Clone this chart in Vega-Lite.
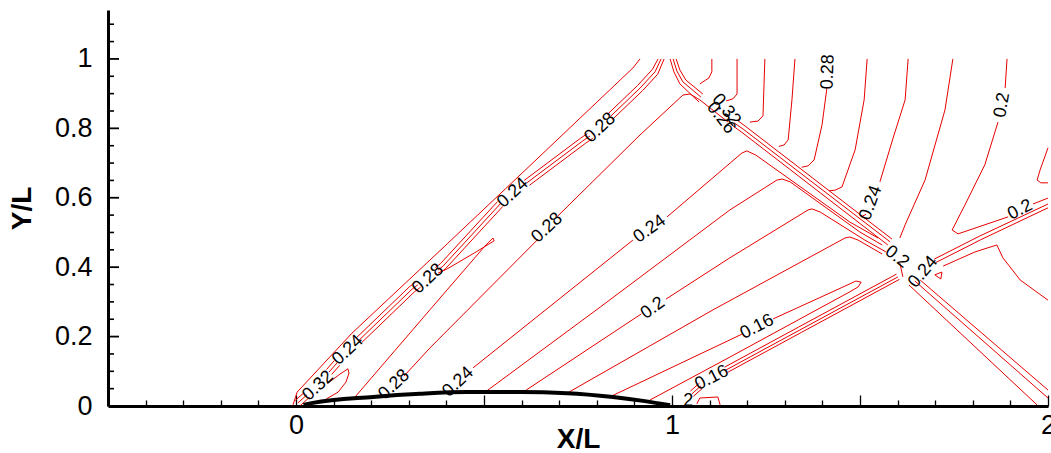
{
"$schema":"https://vega.github.io/schema/vega-lite/v6.json",
"width":940,"height":396,
"autosize":"none",
"padding":{"left":108,"top":10,"right":3,"bottom":47},
"background":"white",
"config":{"view":{"stroke":null},"font":"Liberation Sans","axis":{"grid":false,"labelFlush":false,"labelOverlap":false}},
"resolve":{"axis":{"x":"independent","y":"independent"}},
"datasets":{
"contours":[
{"id":"O","o":0,"x":-0.008,"y":0.003},{"id":"O","o":1,"x":0.003,"y":0.040},{"id":"O","o":2,"x":0.149,"y":0.210},{"id":"O","o":3,"x":0.402,"y":0.467},{"id":"O","o":4,"x":0.649,"y":0.720},{"id":"O","o":5,"x":0.862,"y":0.939},{"id":"O","o":6,"x":0.896,"y":0.974},{"id":"O","o":7,"x":0.915,"y":1.0},
{"id":"Bma","o":0,"x":-0.002,"y":0.016},{"id":"Bma","o":1,"x":0.022,"y":0.039},
{"id":"Bmb","o":0,"x":0.081,"y":0.105},{"id":"Bmb","o":1,"x":0.102,"y":0.131},
{"id":"Bmc","o":0,"x":0.161,"y":0.197},{"id":"Bmc","o":1,"x":0.302,"y":0.344},{"id":"Bmc","o":2,"x":0.317,"y":0.356},
{"id":"Bmd","o":0,"x":0.371,"y":0.399},{"id":"Bmd","o":1,"x":0.384,"y":0.410},{"id":"Bmd","o":2,"x":0.536,"y":0.589},
{"id":"Bme","o":0,"x":0.607,"y":0.650},{"id":"Bme","o":1,"x":0.756,"y":0.771},{"id":"Bme","o":2,"x":0.775,"y":0.785},
{"id":"Bmf","o":0,"x":0.828,"y":0.840},{"id":"Bmf","o":1,"x":0.908,"y":0.923},{"id":"Bmf","o":2,"x":0.948,"y":0.970},{"id":"Bmf","o":3,"x":0.963,"y":1.0},
{"id":"B0a","o":0,"x":0.005,"y":0.009},{"id":"B0a","o":1,"x":0.029,"y":0.032},
{"id":"B0b","o":0,"x":0.088,"y":0.098},{"id":"B0b","o":1,"x":0.109,"y":0.124},
{"id":"B0c","o":0,"x":0.168,"y":0.190},{"id":"B0c","o":1,"x":0.309,"y":0.337},{"id":"B0c","o":2,"x":0.324,"y":0.349},
{"id":"B0d","o":0,"x":0.378,"y":0.392},{"id":"B0d","o":1,"x":0.391,"y":0.403},{"id":"B0d","o":2,"x":0.543,"y":0.582},
{"id":"B0e","o":0,"x":0.614,"y":0.643},{"id":"B0e","o":1,"x":0.763,"y":0.764},{"id":"B0e","o":2,"x":0.782,"y":0.778},
{"id":"B0f","o":0,"x":0.835,"y":0.833},{"id":"B0f","o":1,"x":0.915,"y":0.916},{"id":"B0f","o":2,"x":0.955,"y":0.963},{"id":"B0f","o":3,"x":0.971,"y":1.0},
{"id":"Bpa","o":0,"x":0.012,"y":0.002},{"id":"Bpa","o":1,"x":0.036,"y":0.025},
{"id":"Bpb","o":0,"x":0.095,"y":0.091},{"id":"Bpb","o":1,"x":0.116,"y":0.117},
{"id":"Bpc","o":0,"x":0.175,"y":0.183},{"id":"Bpc","o":1,"x":0.316,"y":0.330},{"id":"Bpc","o":2,"x":0.331,"y":0.342},
{"id":"Bpd","o":0,"x":0.385,"y":0.385},{"id":"Bpd","o":1,"x":0.398,"y":0.396},{"id":"Bpd","o":2,"x":0.550,"y":0.575},
{"id":"Bpe","o":0,"x":0.621,"y":0.636},{"id":"Bpe","o":1,"x":0.770,"y":0.757},{"id":"Bpe","o":2,"x":0.789,"y":0.771},
{"id":"Bpf","o":0,"x":0.842,"y":0.826},{"id":"Bpf","o":1,"x":0.922,"y":0.909},{"id":"Bpf","o":2,"x":0.962,"y":0.956},{"id":"Bpf","o":3,"x":0.979,"y":1.0},
{"id":"L","o":0,"x":0.085,"y":0.066},{"id":"L","o":1,"x":0.117,"y":0.092},{"id":"L","o":2,"x":0.138,"y":0.107},{"id":"L","o":3,"x":0.141,"y":0.095},{"id":"L","o":4,"x":0.133,"y":0.069},{"id":"L","o":5,"x":0.112,"y":0.040},{"id":"L","o":6,"x":0.080,"y":0.020},
{"id":"F1","o":0,"x":0.157,"y":0.026},{"id":"F1","o":1,"x":0.356,"y":0.277},{"id":"F1","o":2,"x":0.505,"y":0.464},{"id":"F1","o":3,"x":0.524,"y":0.484},{"id":"F1","o":4,"x":0.527,"y":0.476},{"id":"F1","o":5,"x":0.479,"y":0.444},{"id":"F1","o":6,"x":0.402,"y":0.395},{"id":"F1","o":7,"x":0.378,"y":0.383},
{"id":"F2a","o":0,"x":0.287,"y":0.086},{"id":"F2a","o":1,"x":0.356,"y":0.167},{"id":"F2a","o":2,"x":0.644,"y":0.481},
{"id":"F2b","o":0,"x":0.694,"y":0.545},{"id":"F2b","o":1,"x":0.915,"y":0.781},{"id":"F2b","o":2,"x":1.029,"y":0.896},{"id":"F2b","o":3,"x":1.048,"y":0.899},{"id":"F2b","o":4,"x":1.074,"y":0.882},{"id":"F2b","o":5,"x":1.149,"y":0.818},
{"id":"F3a","o":0,"x":0.471,"y":0.110},{"id":"F3a","o":1,"x":0.896,"y":0.478},
{"id":"F3b","o":0,"x":0.987,"y":0.545},{"id":"F3b","o":1,"x":1.186,"y":0.729},{"id":"F3b","o":2,"x":1.199,"y":0.735},{"id":"F3b","o":3,"x":1.223,"y":0.723},{"id":"F3b","o":4,"x":1.473,"y":0.530},{"id":"F3b","o":5,"x":1.548,"y":0.484},
{"id":"F4","o":0,"x":0.503,"y":0.040},{"id":"F4","o":1,"x":0.809,"y":0.285},{"id":"F4","o":2,"x":1.154,"y":0.565},{"id":"F4","o":3,"x":1.279,"y":0.651},{"id":"F4","o":4,"x":1.293,"y":0.654},{"id":"F4","o":5,"x":1.314,"y":0.646},{"id":"F4","o":6,"x":1.500,"y":0.501},{"id":"F4","o":7,"x":1.559,"y":0.464},
{"id":"F5a","o":0,"x":0.604,"y":0.040},{"id":"F5a","o":1,"x":0.918,"y":0.265},
{"id":"F5b","o":0,"x":0.984,"y":0.308},{"id":"F5b","o":1,"x":1.154,"y":0.427},{"id":"F5b","o":2,"x":1.362,"y":0.565},{"id":"F5b","o":3,"x":1.372,"y":0.568},{"id":"F5b","o":4,"x":1.394,"y":0.559},{"id":"F5b","o":5,"x":1.513,"y":0.478},{"id":"F5b","o":6,"x":1.569,"y":0.444},
{"id":"F6","o":0,"x":0.721,"y":0.037},{"id":"F6","o":1,"x":0.941,"y":0.173},{"id":"F6","o":2,"x":1.109,"y":0.277},{"id":"F6","o":3,"x":1.460,"y":0.484},{"id":"F6","o":4,"x":1.473,"y":0.487},{"id":"F6","o":5,"x":1.495,"y":0.478},{"id":"F6","o":6,"x":1.559,"y":0.438},
{"id":"F7a","o":0,"x":0.840,"y":0.029},{"id":"F7a","o":1,"x":1.186,"y":0.207},
{"id":"F7b","o":0,"x":1.269,"y":0.251},{"id":"F7b","o":1,"x":1.455,"y":0.343},{"id":"F7b","o":2,"x":1.489,"y":0.360},{"id":"F7b","o":3,"x":1.503,"y":0.357},{"id":"F7b","o":4,"x":1.495,"y":0.343},{"id":"F7b","o":5,"x":1.473,"y":0.329},{"id":"F7b","o":6,"x":1.154,"y":0.141},{"id":"F7b","o":7,"x":0.941,"y":0.017},
{"id":"Tms","o":0,"x":1.049,"y":0.043},{"id":"Tms","o":1,"x":1.073,"y":0.066},
{"id":"Tm","o":0,"x":1.140,"y":0.112},{"id":"Tm","o":1,"x":1.336,"y":0.227},{"id":"Tm","o":2,"x":1.597,"y":0.380},
{"id":"T0s","o":0,"x":1.053,"y":0.035},{"id":"T0s","o":1,"x":1.077,"y":0.058},
{"id":"T0","o":0,"x":1.144,"y":0.104},{"id":"T0","o":1,"x":1.340,"y":0.219},{"id":"T0","o":2,"x":1.601,"y":0.372},
{"id":"Tps","o":0,"x":1.057,"y":0.028},{"id":"Tps","o":1,"x":1.081,"y":0.051},
{"id":"Tp","o":0,"x":1.148,"y":0.097},{"id":"Tp","o":1,"x":1.344,"y":0.212},{"id":"Tp","o":2,"x":1.605,"y":0.365},
{"id":"R1a","o":0,"x":1.011,"y":1.0},{"id":"R1a","o":1,"x":1.021,"y":0.968},{"id":"R1a","o":2,"x":1.037,"y":0.939},{"id":"R1a","o":3,"x":1.082,"y":0.899},
{"id":"R1b","o":0,"x":1.173,"y":0.824},{"id":"R1b","o":1,"x":1.194,"y":0.807},{"id":"R1b","o":2,"x":1.585,"y":0.481},
{"id":"R2a","o":0,"x":1.003,"y":1.0},{"id":"R2a","o":1,"x":1.013,"y":0.965},{"id":"R2a","o":2,"x":1.029,"y":0.934},{"id":"R2a","o":3,"x":1.077,"y":0.890},
{"id":"R2b","o":0,"x":1.165,"y":0.816},{"id":"R2b","o":1,"x":1.189,"y":0.798},{"id":"R2b","o":2,"x":1.580,"y":0.473},
{"id":"R3a","o":0,"x":0.995,"y":1.0},{"id":"R3a","o":1,"x":1.005,"y":0.963},{"id":"R3a","o":2,"x":1.021,"y":0.928},{"id":"R3a","o":3,"x":1.072,"y":0.876},
{"id":"R3b","o":0,"x":1.162,"y":0.807},{"id":"R3b","o":1,"x":1.184,"y":0.790},{"id":"R3b","o":2,"x":1.574,"y":0.464},
{"id":"CX","o":0,"x":1.606,"y":0.412},{"id":"CX","o":1,"x":1.614,"y":0.372},
{"id":"RL1","o":0,"x":1.630,"y":0.349},{"id":"RL1","o":1,"x":1.971,"y":0.003},
{"id":"RL2","o":0,"x":1.646,"y":0.360},{"id":"RL2","o":1,"x":2.0,"y":0.023},
{"id":"RL3","o":0,"x":1.660,"y":0.363},{"id":"RL3","o":1,"x":2.0,"y":0.046},
{"id":"TRa","o":0,"x":1.697,"y":0.423},{"id":"TRa","o":1,"x":1.817,"y":0.489},{"id":"TRa","o":2,"x":2.0,"y":0.582},
{"id":"TRb","o":0,"x":1.701,"y":0.413},{"id":"TRb","o":1,"x":1.821,"y":0.479},{"id":"TRb","o":2,"x":2.0,"y":0.571},
{"id":"U1","o":0,"x":1.106,"y":1.0},{"id":"U1","o":1,"x":1.106,"y":0.963},{"id":"U1","o":2,"x":1.098,"y":0.945},{"id":"U1","o":3,"x":1.074,"y":0.928},
{"id":"U2","o":0,"x":1.173,"y":1.0},{"id":"U2","o":1,"x":1.173,"y":0.899},{"id":"U2","o":2,"x":1.162,"y":0.885},{"id":"U2","o":3,"x":1.144,"y":0.879},
{"id":"U3","o":0,"x":1.247,"y":1.0},{"id":"U3","o":1,"x":1.242,"y":0.836},{"id":"U3","o":2,"x":1.229,"y":0.821},{"id":"U3","o":3,"x":1.207,"y":0.818},
{"id":"V1","o":0,"x":1.327,"y":1.0},{"id":"V1","o":1,"x":1.319,"y":0.882},{"id":"V1","o":2,"x":1.309,"y":0.767},{"id":"V1","o":3,"x":1.298,"y":0.752},{"id":"V1","o":4,"x":1.284,"y":0.748},
{"id":"V2","o":0,"x":1.412,"y":0.916},{"id":"V2","o":1,"x":1.399,"y":0.810},{"id":"V2","o":2,"x":1.378,"y":0.709},{"id":"V2","o":3,"x":1.362,"y":0.692},{"id":"V2","o":4,"x":1.345,"y":0.688},
{"id":"V3","o":0,"x":1.519,"y":1.0},{"id":"V3","o":1,"x":1.511,"y":0.882},{"id":"V3","o":2,"x":1.487,"y":0.738},{"id":"V3","o":3,"x":1.452,"y":0.631},{"id":"V3","o":4,"x":1.434,"y":0.622},{"id":"V3","o":5,"x":1.418,"y":0.620},
{"id":"V4a","o":0,"x":1.628,"y":1.0},{"id":"V4a","o":1,"x":1.620,"y":0.882},{"id":"V4a","o":2,"x":1.588,"y":0.772},{"id":"V4a","o":3,"x":1.553,"y":0.646},
{"id":"V4b","o":0,"x":1.516,"y":0.552},{"id":"V4b","o":1,"x":1.506,"y":0.547},
{"id":"V5","o":0,"x":1.747,"y":1.0},{"id":"V5","o":1,"x":1.726,"y":0.853},{"id":"V5","o":2,"x":1.673,"y":0.651},{"id":"V5","o":3,"x":1.620,"y":0.522},{"id":"V5","o":4,"x":1.606,"y":0.484},
{"id":"V6a","o":0,"x":1.891,"y":1.0},{"id":"V6a","o":1,"x":1.886,"y":0.916},
{"id":"V6b","o":0,"x":1.867,"y":0.818},{"id":"V6b","o":1,"x":1.832,"y":0.695},{"id":"V6b","o":2,"x":1.779,"y":0.579},{"id":"V6b","o":3,"x":1.745,"y":0.507},{"id":"V6b","o":4,"x":1.761,"y":0.496},{"id":"V6b","o":5,"x":1.894,"y":0.545},
{"id":"V6c","o":0,"x":1.960,"y":0.582},{"id":"V6c","o":1,"x":2.0,"y":0.599},
{"id":"V7","o":0,"x":2.0,"y":0.744},{"id":"V7","o":1,"x":1.979,"y":0.680},{"id":"V7","o":2,"x":1.971,"y":0.651},{"id":"V7","o":3,"x":1.981,"y":0.643},{"id":"V7","o":4,"x":2.0,"y":0.643},
{"id":"BT","o":0,"x":1.721,"y":0.403},{"id":"BT","o":1,"x":1.806,"y":0.444},{"id":"BT","o":2,"x":1.864,"y":0.464},{"id":"BT","o":3,"x":1.880,"y":0.427},{"id":"BT","o":4,"x":1.926,"y":0.363},{"id":"BT","o":5,"x":2.0,"y":0.305},
{"id":"TRI","o":0,"x":1.699,"y":0.378},{"id":"TRI","o":1,"x":1.718,"y":0.386},{"id":"TRI","o":2,"x":1.715,"y":0.366},{"id":"TRI","o":3,"x":1.699,"y":0.378},
{"id":"GAM","o":0,"x":1.066,"y":0.006},{"id":"GAM","o":1,"x":1.074,"y":0.023},{"id":"GAM","o":2,"x":1.122,"y":0.026},{"id":"GAM","o":3,"x":1.128,"y":0.003}
],
"bump":[
{"x":0.02,"y":0.003},{"x":0.045,"y":0.009},{"x":0.205,"y":0.026},{"x":0.330,"y":0.035},{"x":0.455,"y":0.040},{"x":0.596,"y":0.040},{"x":0.721,"y":0.037},{"x":0.843,"y":0.026},{"x":0.928,"y":0.014},{"x":0.995,"y":0.002}
],
"ymajor":[{"v":0.2},{"v":0.4},{"v":0.6},{"v":0.8},{"v":1.0}],
"yminor":[{"v":0.05},{"v":0.1},{"v":0.15},{"v":0.25},{"v":0.3},{"v":0.35},{"v":0.45},{"v":0.5},{"v":0.55},{"v":0.65},{"v":0.7},{"v":0.75},{"v":0.85},{"v":0.9},{"v":0.95},{"v":1.05},{"v":1.1}],
"lab43":[
{"t":"0.32","x":0.059,"y":0.058},{"t":"0.24","x":0.138,"y":0.161},{"t":"0.28","x":0.351,"y":0.366},{"t":"0.24","x":0.577,"y":0.614},{"t":"0.28","x":0.809,"y":0.801},{"t":"0.28","x":0.261,"y":0.061},{"t":"0.24","x":0.431,"y":0.069},{"t":"0.28","x":0.668,"y":0.513}
],
"lab36":[{"t":"0.24","x":0.941,"y":0.510},{"t":"0.2","x":0.949,"y":0.282}],
"lab27":[{"t":"0.16","x":1.226,"y":0.228},{"t":"0.16","x":1.106,"y":0.081},{"t":"0.2","x":1.926,"y":0.565}],
"lab52":[{"t":"0.32","x":1.144,"y":0.853},{"t":"0.26","x":1.130,"y":0.830}],
"lab88":[{"t":"0.28","x":1.415,"y":0.963}],
"lab80":[{"t":"0.2","x":1.878,"y":0.867}],
"lab70":[{"t":"0.24","x":1.529,"y":0.585}],
"lab38":[{"t":"0.2","x":1.598,"y":0.429}],
"lab50":[{"t":"0.24","x":1.668,"y":0.386}],
"lab0":[{"t":"2","x":1.043,"y":0.014}]
},
"layer":[
{"data":{"name":"contours"},
 "mark":{"type":"line","color":"#e80000","strokeWidth":1},
 "encoding":{
  "x":{"field":"x","type":"quantitative","scale":{"domain":[-0.5,2],"nice":false,"zero":false},
   "axis":{"orient":"bottom","values":[-0.5,-0.4,-0.3,-0.2,-0.1,0,0.1,0.2,0.3,0.4,0.5,0.6,0.7,0.8,0.9,1,1.1,1.2,1.3,1.4,1.5,1.6,1.7,1.8,1.9,2],
    "format":"~g","labelExpr":"abs(datum.value - round(datum.value)) < 0.000001 ? datum.label : ''",
    "ticks":true,"tickColor":"black","tickWidth":1.3,
    "tickSize":{"condition":{"test":"abs(datum.value*2 - round(datum.value*2)) < 0.000001","value":-11},"value":-6},
    "domain":true,"domainColor":"black","domainWidth":3,"labelFont":"Liberation Sans","labelFontSize":27,"labelColor":"black","labelPadding":17,
    "title":"X/L","titleFont":"Liberation Sans","titleFontSize":28,"titleFontWeight":"bold","titleColor":"black","titleY":41,"titleBaseline":"alphabetic"}},
  "y":{"field":"y","type":"quantitative","scale":{"domain":[0,1.141],"nice":false,"zero":false},
   "axis":{"orient":"left","values":[0,0.2,0.4,0.6,0.8,1],
    "format":"~g","ticks":false,
    "domain":true,"domainColor":"black","domainWidth":3,"labelFont":"Liberation Sans","labelFontSize":27,"labelColor":"black","labelPadding":16,
    "title":"Y/L","titleFont":"Liberation Sans","titleFontSize":28,"titleFontWeight":"bold","titleColor":"black","titleX":-86,"titleY":198,"titleAngle":-90,"titleAlign":"center","titleBaseline":"middle"}},
  "detail":{"field":"id"},
  "order":{"field":"o","type":"quantitative"}}},
{"data":{"name":"ymajor"},
 "mark":{"type":"rule","color":"black","strokeWidth":1.8},
 "encoding":{
  "y":{"field":"v","type":"quantitative","scale":{"domain":[0,1.141],"nice":false,"zero":false},"axis":null},
  "x":{"datum":-0.5,"type":"quantitative","scale":{"domain":[-0.5,2],"nice":false,"zero":false},"axis":null},
  "x2":{"datum":-0.4707}}},
{"data":{"name":"yminor"},
 "mark":{"type":"rule","color":"black","strokeWidth":1.6},
 "encoding":{
  "y":{"field":"v","type":"quantitative","scale":{"domain":[0,1.141],"nice":false,"zero":false},"axis":null},
  "x":{"datum":-0.5,"type":"quantitative","scale":{"domain":[-0.5,2],"nice":false,"zero":false},"axis":null},
  "x2":{"datum":-0.484}}},
{"data":{"name":"bump"},
 "mark":{"type":"line","color":"black","strokeWidth":4,"interpolate":"monotone"},
 "encoding":{
  "x":{"field":"x","type":"quantitative","scale":{"domain":[-0.5,2],"nice":false,"zero":false},"axis":null},
  "y":{"field":"y","type":"quantitative","scale":{"domain":[0,1.141],"nice":false,"zero":false},"axis":null}}},
{"data":{"name":"lab43"},"mark":{"type":"text","angle":-43,"fontSize":18,"font":"Liberation Sans","color":"black"},
 "encoding":{"x":{"field":"x","type":"quantitative","scale":{"domain":[-0.5,2],"nice":false,"zero":false},"axis":null},"y":{"field":"y","type":"quantitative","scale":{"domain":[0,1.141],"nice":false,"zero":false},"axis":null},"text":{"field":"t"}}},
{"data":{"name":"lab36"},"mark":{"type":"text","angle":-36,"fontSize":18,"font":"Liberation Sans","color":"black"},
 "encoding":{"x":{"field":"x","type":"quantitative","scale":{"domain":[-0.5,2],"nice":false,"zero":false},"axis":null},"y":{"field":"y","type":"quantitative","scale":{"domain":[0,1.141],"nice":false,"zero":false},"axis":null},"text":{"field":"t"}}},
{"data":{"name":"lab27"},"mark":{"type":"text","angle":-27,"fontSize":18,"font":"Liberation Sans","color":"black"},
 "encoding":{"x":{"field":"x","type":"quantitative","scale":{"domain":[-0.5,2],"nice":false,"zero":false},"axis":null},"y":{"field":"y","type":"quantitative","scale":{"domain":[0,1.141],"nice":false,"zero":false},"axis":null},"text":{"field":"t"}}},
{"data":{"name":"lab52"},"mark":{"type":"text","angle":52,"fontSize":18,"font":"Liberation Sans","color":"black"},
 "encoding":{"x":{"field":"x","type":"quantitative","scale":{"domain":[-0.5,2],"nice":false,"zero":false},"axis":null},"y":{"field":"y","type":"quantitative","scale":{"domain":[0,1.141],"nice":false,"zero":false},"axis":null},"text":{"field":"t"}}},
{"data":{"name":"lab88"},"mark":{"type":"text","angle":-88,"fontSize":18,"font":"Liberation Sans","color":"black"},
 "encoding":{"x":{"field":"x","type":"quantitative","scale":{"domain":[-0.5,2],"nice":false,"zero":false},"axis":null},"y":{"field":"y","type":"quantitative","scale":{"domain":[0,1.141],"nice":false,"zero":false},"axis":null},"text":{"field":"t"}}},
{"data":{"name":"lab80"},"mark":{"type":"text","angle":-80,"fontSize":18,"font":"Liberation Sans","color":"black"},
 "encoding":{"x":{"field":"x","type":"quantitative","scale":{"domain":[-0.5,2],"nice":false,"zero":false},"axis":null},"y":{"field":"y","type":"quantitative","scale":{"domain":[0,1.141],"nice":false,"zero":false},"axis":null},"text":{"field":"t"}}},
{"data":{"name":"lab70"},"mark":{"type":"text","angle":-70,"fontSize":18,"font":"Liberation Sans","color":"black"},
 "encoding":{"x":{"field":"x","type":"quantitative","scale":{"domain":[-0.5,2],"nice":false,"zero":false},"axis":null},"y":{"field":"y","type":"quantitative","scale":{"domain":[0,1.141],"nice":false,"zero":false},"axis":null},"text":{"field":"t"}}},
{"data":{"name":"lab38"},"mark":{"type":"text","angle":38,"fontSize":18,"font":"Liberation Sans","color":"black"},
 "encoding":{"x":{"field":"x","type":"quantitative","scale":{"domain":[-0.5,2],"nice":false,"zero":false},"axis":null},"y":{"field":"y","type":"quantitative","scale":{"domain":[0,1.141],"nice":false,"zero":false},"axis":null},"text":{"field":"t"}}},
{"data":{"name":"lab50"},"mark":{"type":"text","angle":-50,"fontSize":18,"font":"Liberation Sans","color":"black"},
 "encoding":{"x":{"field":"x","type":"quantitative","scale":{"domain":[-0.5,2],"nice":false,"zero":false},"axis":null},"y":{"field":"y","type":"quantitative","scale":{"domain":[0,1.141],"nice":false,"zero":false},"axis":null},"text":{"field":"t"}}},
{"data":{"name":"lab0"},"mark":{"type":"text","angle":0,"fontSize":18,"font":"Liberation Sans","color":"black"},
 "encoding":{"x":{"field":"x","type":"quantitative","scale":{"domain":[-0.5,2],"nice":false,"zero":false},"axis":null},"y":{"field":"y","type":"quantitative","scale":{"domain":[0,1.141],"nice":false,"zero":false},"axis":null},"text":{"field":"t"}}},
{"mark":{"type":"rule","color":"black","strokeWidth":4},
 "encoding":{"x":{"datum":-0.5,"type":"quantitative","scale":{"domain":[-0.5,2],"nice":false,"zero":false},"axis":null},"x2":{"datum":2},"y":{"datum":1,"type":"quantitative","scale":{"domain":[0,1.141],"nice":false,"zero":false},"axis":null}}},
{"mark":{"type":"rule","color":"black","strokeWidth":2},
 "encoding":{"x":{"datum":2,"type":"quantitative","scale":{"domain":[-0.5,2],"nice":false,"zero":false},"axis":null},"y":{"datum":0,"type":"quantitative","scale":{"domain":[0,1.141],"nice":false,"zero":false},"axis":null},"y2":{"datum":1}}}
]
}
